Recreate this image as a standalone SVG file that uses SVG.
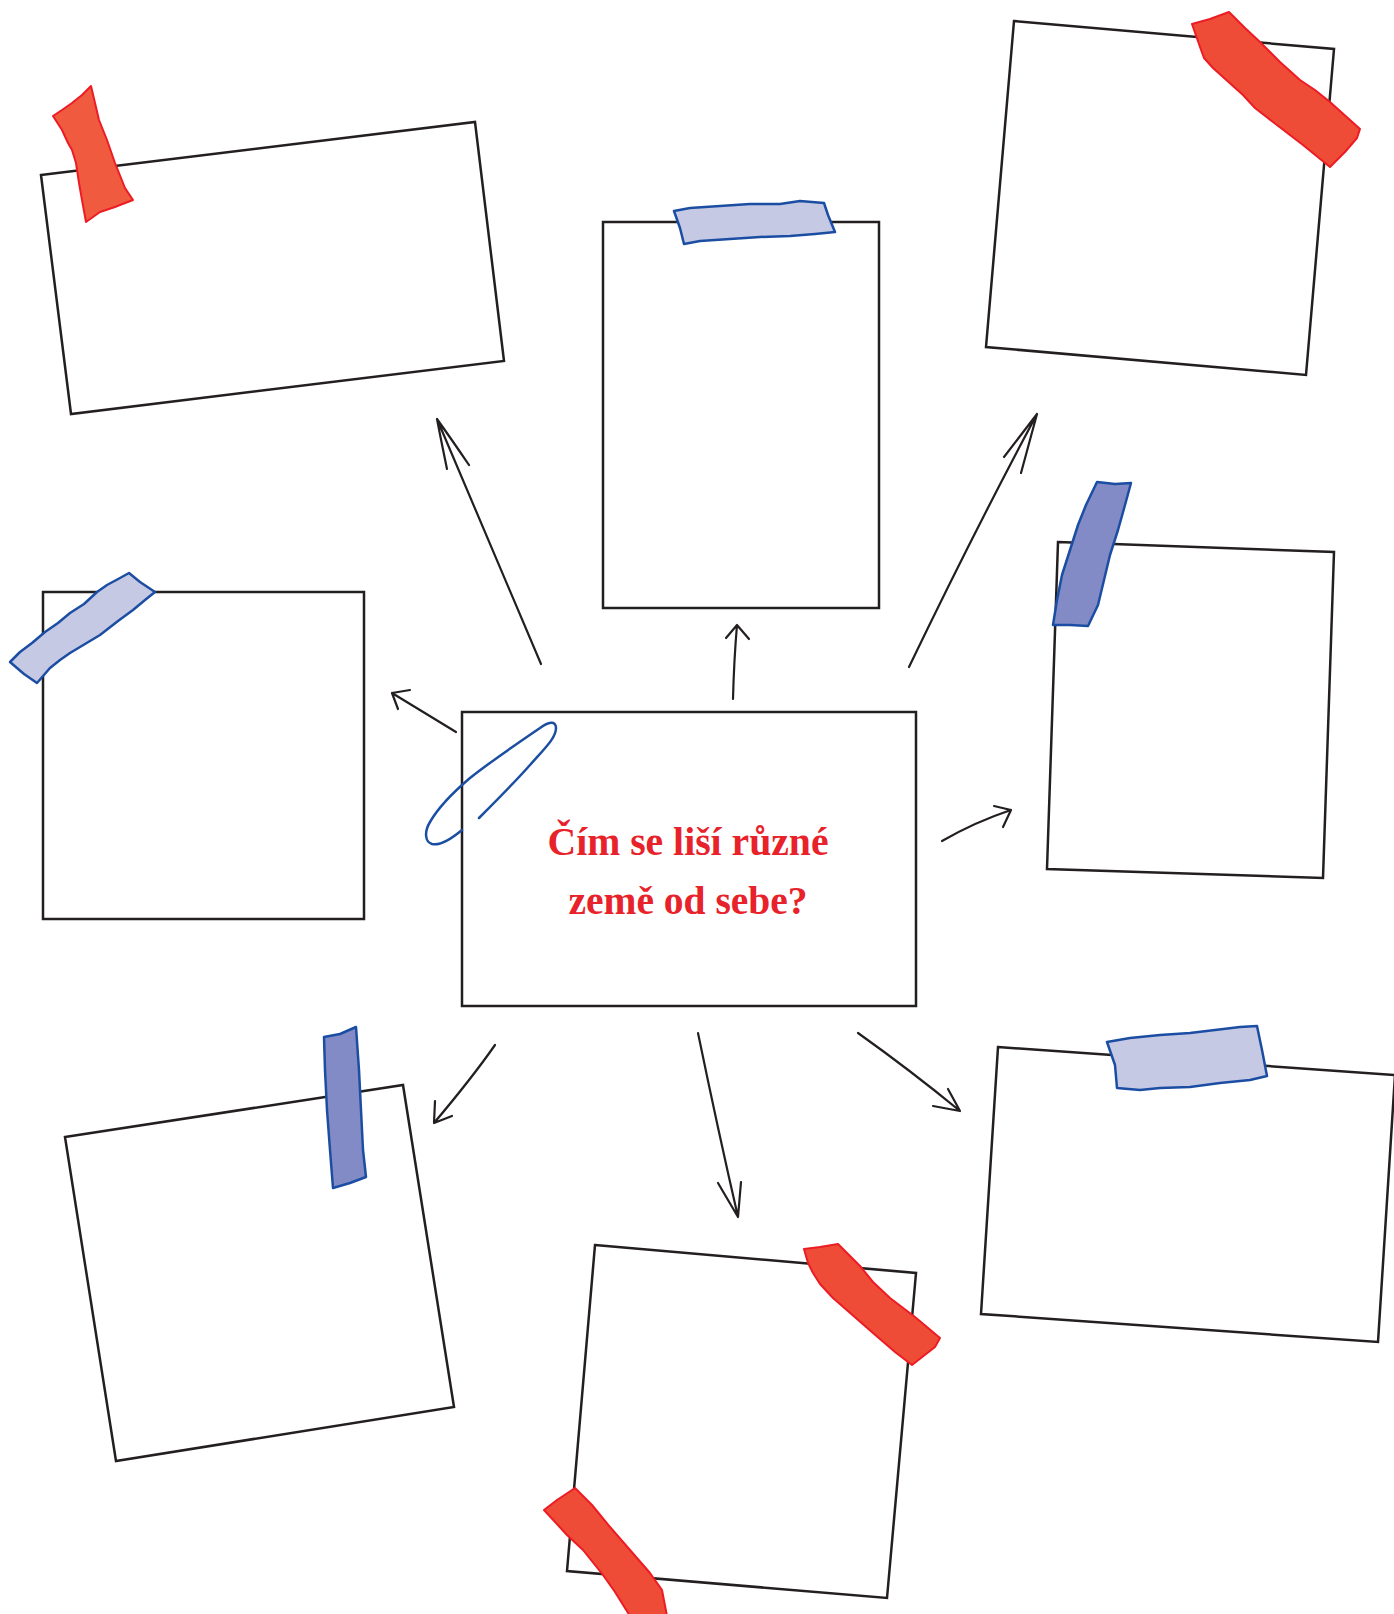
<svg xmlns="http://www.w3.org/2000/svg" width="1394" height="1614" viewBox="0 0 1394 1614">
<style>
.card{fill:#fff;stroke:#231f20;stroke-width:2.5;stroke-linejoin:miter}
.red{fill:#ef4c38;stroke:#ec1c24;stroke-width:2;stroke-linejoin:round}
.red2{fill:#f05b40;stroke:#ec1c24;stroke-width:2;stroke-linejoin:round}
.lblue{fill:#c6c9e4;stroke:#1b4ea3;stroke-width:2.5;stroke-linejoin:round}
.dblue{fill:#828bc5;stroke:#1b4ea3;stroke-width:2.5;stroke-linejoin:round}
.arrow{fill:none;stroke:#231f20;stroke-width:2.2;stroke-linecap:round;stroke-linejoin:round}
.clip{fill:none;stroke:#1b4ea3;stroke-width:2.5;stroke-linecap:round}
.title{font-family:"Liberation Serif","Times New Roman",serif;font-weight:bold;font-size:39px;fill:#e8222a;text-anchor:middle}
</style>
<rect width="1394" height="1614" fill="#fff"/>

<g id="card-top-left">
<polygon class="card" points="41,175 475,122 504,361 71,414"/>
<path class="red2" d="M53,116 L62,110 72,103 82,95 91,86 L95,103 99,120 107,140 115,163 125,188 133,200 L120,205 115,207 100,212 86,222 L82,200 79,183 76,163 72,150 68,143 62,130 Z"/>
</g>

<g id="card-top-center">
<rect class="card" x="603" y="222" width="276" height="386"/>
<path class="lblue" d="M674,211 L690,208 720,206 750,204 780,204 800,201 824,203 L828,215 835,232 L815,234 790,236 760,237 730,239 700,241 684,244 L680,228 Z"/>
</g>

<g id="card-top-right">
<polygon class="card" points="1014,21 1334,49 1306,375 986,347"/>
<path class="red" d="M1192,24 L1210,19 1229,12 L1245,28 1260,42 1280,62 1300,80 1315,90 1330,102 1360,129 L1357,138 1345,152 1330,167 L1303,145 1273,122 1255,108 1243,95 1213,68 1204,58 1200,47 Z"/>
</g>

<g id="card-middle-left">
<rect class="card" x="43" y="592" width="321" height="327"/>
<path class="lblue" d="M10,662 L20,652 32,643 45,632 58,623 70,613 84,604 97,592 107,585 120,578 129,573 L140,582 155,592 L145,600 133,610 118,621 100,635 85,644 70,653 60,660 50,668 37,683 L24,674 Z"/>
</g>

<g id="card-middle-right">
<polygon class="card" points="1058,542 1334,552 1323,878 1047,869"/>
<path class="dblue" d="M1097,482 L1115,484 1131,483 L1125,505 1118,530 1110,555 1104,580 1098,605 1088,626 L1070,625 1053,625 L1057,600 1062,575 1070,550 1078,525 1086,505 Z"/>
</g>

<g id="card-bottom-left">
<polygon class="card" points="65,1137 403,1085 454,1407 116,1461"/>
<path class="dblue" d="M324,1037 L340,1034 356,1027 L359,1070 361,1110 363,1150 366,1177 L350,1183 333,1188 L330,1150 327,1110 325,1070 Z"/>
</g>

<g id="card-bottom-center">
<polygon class="card" points="595,1245 916,1273 887,1598 567,1571"/>
<path class="red" d="M804,1249 L820,1247 838,1244 L860,1266 873,1282 890,1298 915,1317 940,1338 L935,1347 912,1365 L895,1352 873,1333 833,1298 820,1284 813,1273 808,1263 Z"/>
<path class="red" d="M544,1510 L557,1500 575,1488 L592,1505 610,1527 630,1550 650,1573 662,1590 667,1616 L630,1616 L615,1592 603,1575 583,1550 567,1535 Z"/>
</g>

<g id="card-bottom-right">
<polygon class="card" points="998,1047 1395,1075 1378,1342 981,1314"/>
<path class="lblue" d="M1107,1042 L1130,1038 1160,1035 1190,1033 1215,1030 1240,1027 1257,1026 L1262,1050 1267,1076 L1250,1080 1220,1083 1190,1087 1160,1088 1140,1090 1117,1088 L1115,1065 Z"/>
</g>

<g id="center">
<rect class="card" x="462" y="712" width="454" height="294"/>
<text class="title" x="688" y="855" textLength="281" lengthAdjust="spacingAndGlyphs">Čím se liší různé</text>
<text class="title" x="688" y="914" textLength="239" lengthAdjust="spacingAndGlyphs">země od sebe?</text>
<path class="clip" d="M462,830 C450,840 440,846 432,844 C425,842 424,832 430,822 C438,808 450,795 470,778 C490,762 515,745 540,728 C548,722 556,720 556,728 C556,738 545,748 530,765 C515,782 495,802 479,818"/>
</g>

<g id="connectors">
<path class="arrow" d="M541,664 L437,419 M447,469 Q441,440 437,419 Q452,440 469,465"/>
<path class="arrow" d="M733,699 Q734,660 737,625 M726,638 L737,625 L749,639"/>
<path class="arrow" d="M909,667 Q975,530 1037,414 M1004,457 L1037,414 L1021,473"/>
<path class="arrow" d="M456,732 Q420,710 392,693 M410,690 L392,693 L398,709"/>
<path class="arrow" d="M942,841 Q975,822 1011,810 M994,806 L1011,810 L1003,827"/>
<path class="arrow" d="M495,1045 Q472,1078 434,1123 M435,1101 L434,1123 L452,1116"/>
<path class="arrow" d="M698,1033 Q718,1130 738,1217 M718,1183 L738,1217 L741,1182"/>
<path class="arrow" d="M858,1033 Q910,1070 960,1111 M948,1089 L960,1111 L933,1106"/>
</g>
</svg>
